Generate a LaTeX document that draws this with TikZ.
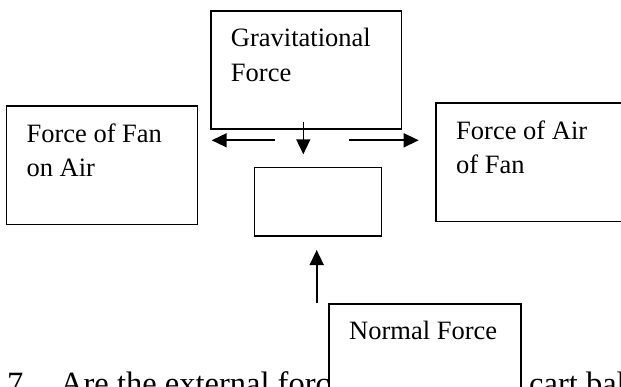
\documentclass[tikz,border=0pt]{standalone}
\usepackage{fontspec}
\setmainfont{Liberation Serif}
\usetikzlibrary{arrows.meta,positioning}

\begin{document}
\begin{tikzpicture}[x=1pt, y=1pt, line cap=butt,
  panel/.style={draw, line width=1.6pt, inner sep=0pt, outer sep=0pt, fill=white},
  paneltext/.style={anchor=north west, inner sep=0pt, align=left,
    font=\fontsize{26.5}{34.5}\selectfont},
  question/.style={anchor=base west, inner sep=0pt, font=\fontsize{32.5}{39}\selectfont},
  pull/.style={line width=1.6pt, -{Triangle[length=15pt, width=14pt]}}]
  \useasboundingbox (0,0) rectangle (621,386);
  \clip (0,0) rectangle (621,386);

  % Question line (partly hidden by the normal force box)
  \node[question] (qnum) at (7,-8) {7.};
  \node[question] (qtext) at (60,-8) {Are the external forces};
  \node[question] (qend) at (529,-8) {cart balanced?};

  % Boxes
  \node[panel, minimum width=190.9pt, minimum height=118.3pt] (grav) at (306.2,316.1) {};
  \node[panel, minimum width=191.3pt, minimum height=118.3pt] (fanair) at (102,220.8) {};
  \node[panel, minimum width=191pt, minimum height=118.4pt] (airfan) at (531.5,223.5) {};
  \node[panel, minimum width=126.7pt, minimum height=68.3pt] (cart) at (318,184.2) {};
  \node[panel, minimum width=192pt, minimum height=118pt] (normal) at (425,23) {};

  % Labels
  \node[paneltext, below right=17.2pt and 20pt of grav.north west] (gravtext) {Gravitational\\Force};
  \node[paneltext, below right=17.2pt and 20pt of fanair.north west] (fanairtext) {Force of Fan\\on Air};
  \node[paneltext, below right=17.2pt and 20pt of airfan.north west] (airfantext) {Force of Air\\of Fan};
  \node[paneltext, below right=17.2pt and 20pt of normal.north west] (normaltext) {Normal Force};

  % Arrow ends
  \coordinate (lefttail) at (275,245.7);
  \coordinate (lefttip) at (211.7,245.7);
  \coordinate (downtail) at (303.3,264.3);
  \coordinate (downtip) at (303.3,231.7);
  \coordinate (righttail) at (349.3,245.7);
  \coordinate (righttip) at (418.7,245.7);
  \coordinate (uptail) at (316.7,82.7);
  \coordinate (uptip) at (316.7,136);

  % Forces
  \draw[pull] (lefttail) -- (lefttip);
  \draw[pull] (downtail) -- (downtip);
  \draw[pull] (righttail) -- (righttip);
  \draw[pull] (uptail) -- (uptip);
\end{tikzpicture}
\end{document}
